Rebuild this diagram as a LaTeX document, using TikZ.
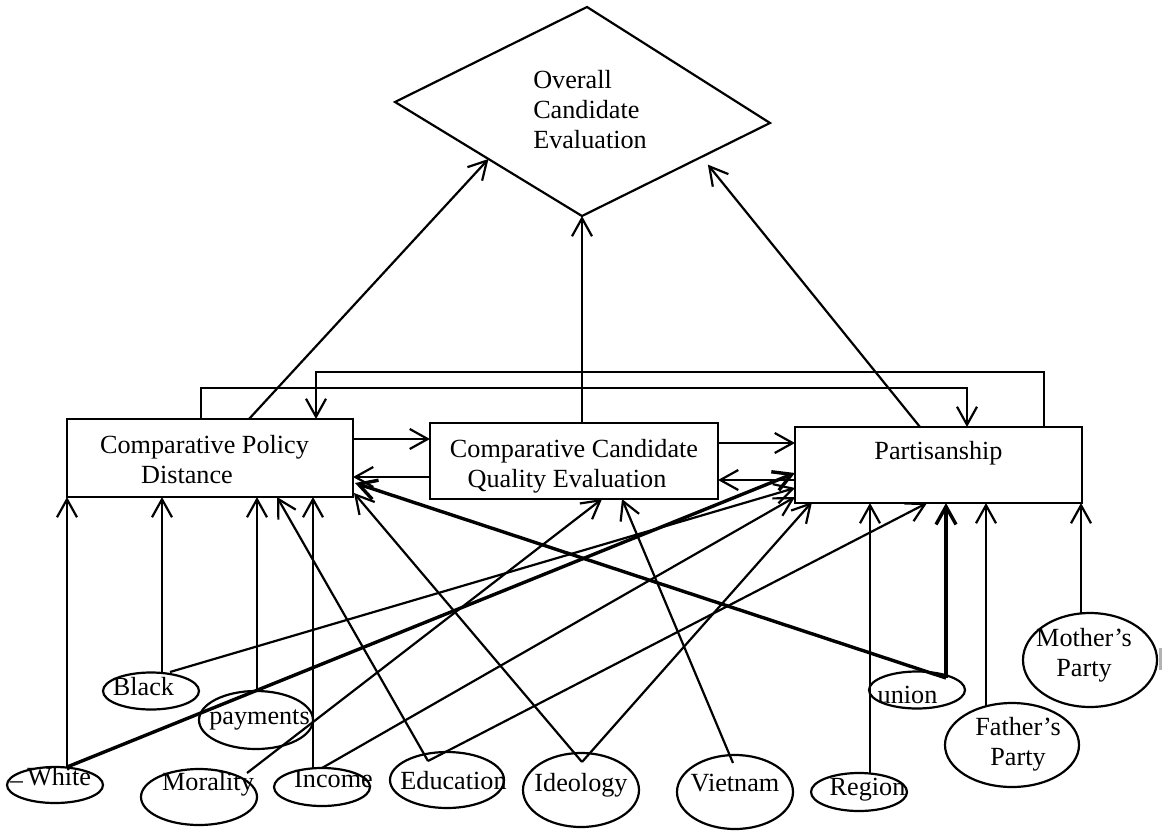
\documentclass[tikz,border=0pt]{standalone}
\usepackage{fontspec}
\setmainfont{Liberation Serif}
\usetikzlibrary{arrows.meta,calc,shapes.geometric}

\begin{document}
\begin{tikzpicture}[x=0.5pt,y=-0.5pt,
  every node/.style={font=\fontsize{13.1pt}{15pt}\selectfont, inner sep=0pt, outer sep=0pt},
  stroke/.style={line width=1.1pt},
  box/.style={draw, stroke, rectangle, align=center},
  ell/.style={draw, stroke, ellipse},
  lbl/.style={align=center},
  arr/.style={stroke, -{Straight Barb[length=9pt,width=10pt]}},
  bold/.style={line width=1.7pt}]

\useasboundingbox (0,0) rectangle (1167,830);

% ---- outcome: skewed diamond ----
\coordinate (Dt) at (587,7);
\coordinate (Dr) at (770,123);
\coordinate (Db) at (582,216);
\coordinate (Dl) at (395,102);
\draw[stroke] (Dt) -- (Dr) -- (Db) -- (Dl) -- cycle;
\node[align=left] (D) at (590,110) {Overall\\Candidate\\Evaluation};

% ---- mediating constructs ----
\node[box, minimum width=143pt, minimum height=39pt] (P) at (210,458)
  {\rule{0pt}{11pt}Comparative Policy\makebox[5.5pt]{}\\Distance\makebox[23pt]{}};
\node[box, minimum width=144pt, minimum height=38pt] (Q) at (574,461)
  {\rule{0pt}{14pt}Comparative Candidate\\Quality Evaluation\makebox[7pt]{}};
\node[box, minimum width=143.5pt, minimum height=38pt] (R) at (938.5,465)
  {Partisanship\\\mbox{}};

% ---- exogenous variables ----
\node[ell, minimum width=48pt, minimum height=18.5pt] (Black) at (151,691) {};
\node[lbl] (tBlack) at (143.5,687) {Black};
\node[ell, minimum width=57pt, minimum height=29pt] (Pay) at (256,720) {};
\node[lbl] (tPay) at (259.5,719.5) {payments};
\node[ell, minimum width=48pt, minimum height=18pt] (White) at (55,785) {};
\node[lbl] (tWhite) at (50.5,778) {\raisebox{-1.4pt}{–}\hspace{2pt}White};
\node[ell, minimum width=58pt, minimum height=28pt] (Mor) at (199,797) {};
\node[lbl] (tMor) at (208,784) {Morality};
\node[ell, minimum width=48pt, minimum height=19pt] (Inc) at (322,787) {};
\node[lbl] (tInc) at (333.5,779.5) {Income};
\node[ell, minimum width=57pt, minimum height=28pt] (Edu) at (447,780) {};
\node[lbl] (tEdu) at (453.5,781) {Education};
\node[ell, minimum width=58pt, minimum height=37pt] (Ideo) at (581,790) {};
\node[lbl] (tIdeo) at (581,785.5) {Ideology};
\node[ell, minimum width=58pt, minimum height=37pt] (Viet) at (735,792) {};
\node[lbl] (tViet) at (735,783.5) {Vietnam};
\node[ell, minimum width=48pt, minimum height=19pt] (Reg) at (859,792) {};
\node[lbl] (tReg) at (867.5,790) {Region};
\node[ell, minimum width=48pt, minimum height=18.5pt] (Uni) at (917,690) {};
\node[lbl] (tUni) at (907.5,694.5) {union};
\node[ell, minimum width=67pt, minimum height=42pt] (Fath) at (1012,745) {};
\node[lbl] (tFath) at (1018,744.5) {Father’s\\Party};
\node[ell, minimum width=67pt, minimum height=47pt] (Moth) at (1090,660) {};
\node[lbl] (tMoth) at (1084,655) {Mother’s\\Party};
\draw[gray!60, line width=1.5pt] (1160,648) -- (1160,670);

% ---- paths into the overall evaluation ----
\draw[arr] ($(P.center)+(39,-39)$) -- ($(Dl)!0.5!(Db)$);
\draw[arr] (Q.north -| Db) -- (Db);
\draw[arr, shorten >=5pt] ($(R.center)+(-18.5,-38)$) -- ($(Db)!0.636!(Dr)$);

% ---- reciprocal loops over the top ----
\draw[arr] ($(P.north)+(-9,0)$) -- ++(0,-31) -| ($(R.north)+(28.5,0)$);
\draw[arr] ($(R.north)+(105.5,0)$) -- ++(0,-55) -| ($(P.north)+(106,0)$);

% ---- reciprocal links between neighbouring boxes ----
\draw[arr] ($(P.east)+(0,-19)$) -- ($(Q.west)+(0,-22)$);
\draw[arr] ($(Q.west)+(0,16)$) -- ($(P.east)+(0,19)$);
\draw[arr] ($(Q.east)+(0,-18)$) -- ($(R.west)+(0,-22)$);
\draw[arr] ($(R.west)+(0,15)$) -- ($(Q.east)+(0,19)$);

% ---- into policy distance ----
\draw[arr] (White.north -| P.south west) -- (P.south west);
\draw[arr] ($(Black.north)+(11,0)$) -- ($(P.south west)+(95,0)$);
\draw[arr] ($(Pay.north)+(1,0)$) -- ($(P.south west)+(190,0)$);
\draw[arr] ($(Inc.north)+(-9,0)$) -- ($(P.south west)+(246,0)$);
\draw[arr] ($(Edu.center)+(-19,-19)$) -- ($(P.south west)+(210,0)$);
\draw[arr] ($(Ideo.center)+(1,-28)$) -- ($(P.south east)+(1,-4)$);
\draw[arr, bold] ($(Uni.center)+(29,-12)$) -- ($(P.east)+(2,25)$);

% ---- into candidate quality ----
\draw[arr] ($(Mor.center)+(48,-24)$) -- ($(Q.south west)+(172,0)$);
\draw[arr] ($(Viet.center)+(-2,-29)$) -- ($(Q.south west)+(192,0)$);

% ---- into partisanship ----
\draw[arr, bold] (White.north -| P.south west) -- ($(R.west)+(0,8)$);
\draw[arr] ($(Black.center)+(19,-19)$) -- ($(R.west)+(0,23)$);
\draw[arr] (Inc.north) -- ($(R.south west)+(0,-6)$);
\draw[arr] ($(Ideo.center)+(1,-28)$) -- ($(R.south west)+(17,-1)$);
\draw[arr] ($(Edu.center)+(-19,-19)$) -- ($(R.south west)+(132,0)$);
\draw[arr] ($(Reg.north)+(11,0)$) -- ($(R.south west)+(75,0)$);
\draw[arr, bold] ($(Uni.center)+(29,-12)$) -- ($(R.south west)+(151,0)$);
\draw[arr] ($(Fath.center)+(-26,-39)$) -- ($(R.south west)+(191,0)$);
\draw[arr] ($(Moth.north)+(-9,0)$) -- ($(R.south east)+(-1,0)$);

\end{tikzpicture}
\end{document}
